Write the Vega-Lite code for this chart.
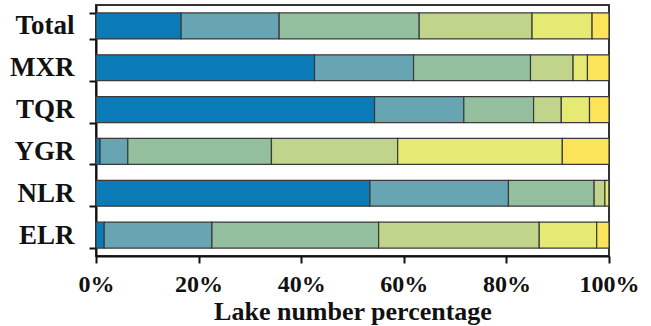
{
  "$schema": "https://vega.github.io/schema/vega-lite/v6.json",
  "width": 513,
  "height": 251,
  "autosize": "none",
  "padding": {"left": 96, "top": 5, "right": 42, "bottom": 70},
  "background": "white",
  "config": {
    "view": {"stroke": "#333", "strokeWidth": 2},
    "font": "Liberation Serif",
    "axis": {
      "domainColor": "#111",
      "domainWidth": 2,
      "tickColor": "#111",
      "tickWidth": 2,
      "labelFont": "Liberation Serif",
      "labelFontWeight": "bold",
      "labelColor": "#111",
      "titleFont": "Liberation Serif",
      "titleFontWeight": "bold",
      "titleColor": "#111",
      "grid": false
    }
  },
  "data": {
    "values": [
      {"region": "Total", "cls": "C1", "k": 1, "pct": 16.6},
      {"region": "Total", "cls": "C2", "k": 2, "pct": 19.1},
      {"region": "Total", "cls": "C3", "k": 3, "pct": 27.3},
      {"region": "Total", "cls": "C4", "k": 4, "pct": 22.0},
      {"region": "Total", "cls": "C5", "k": 5, "pct": 11.7},
      {"region": "Total", "cls": "C6", "k": 6, "pct": 3.3},
      {"region": "MXR", "cls": "C1", "k": 1, "pct": 42.6},
      {"region": "MXR", "cls": "C2", "k": 2, "pct": 19.3},
      {"region": "MXR", "cls": "C3", "k": 3, "pct": 22.8},
      {"region": "MXR", "cls": "C4", "k": 4, "pct": 8.3},
      {"region": "MXR", "cls": "C5", "k": 5, "pct": 2.8},
      {"region": "MXR", "cls": "C6", "k": 6, "pct": 4.2},
      {"region": "TQR", "cls": "C1", "k": 1, "pct": 54.3},
      {"region": "TQR", "cls": "C2", "k": 2, "pct": 17.4},
      {"region": "TQR", "cls": "C3", "k": 3, "pct": 13.6},
      {"region": "TQR", "cls": "C4", "k": 4, "pct": 5.4},
      {"region": "TQR", "cls": "C5", "k": 5, "pct": 5.5},
      {"region": "TQR", "cls": "C6", "k": 6, "pct": 3.8},
      {"region": "YGR", "cls": "C1", "k": 1, "pct": 0.8},
      {"region": "YGR", "cls": "C2", "k": 2, "pct": 5.4},
      {"region": "YGR", "cls": "C3", "k": 3, "pct": 28.0},
      {"region": "YGR", "cls": "C4", "k": 4, "pct": 24.6},
      {"region": "YGR", "cls": "C5", "k": 5, "pct": 32.1},
      {"region": "YGR", "cls": "C6", "k": 6, "pct": 9.1},
      {"region": "NLR", "cls": "C1", "k": 1, "pct": 53.4},
      {"region": "NLR", "cls": "C2", "k": 2, "pct": 27.0},
      {"region": "NLR", "cls": "C3", "k": 3, "pct": 16.7},
      {"region": "NLR", "cls": "C4", "k": 4, "pct": 2.1},
      {"region": "NLR", "cls": "C5", "k": 5, "pct": 0.8},
      {"region": "NLR", "cls": "C6", "k": 6, "pct": 0.0},
      {"region": "ELR", "cls": "C1", "k": 1, "pct": 1.6},
      {"region": "ELR", "cls": "C2", "k": 2, "pct": 21.0},
      {"region": "ELR", "cls": "C3", "k": 3, "pct": 32.5},
      {"region": "ELR", "cls": "C4", "k": 4, "pct": 31.3},
      {"region": "ELR", "cls": "C5", "k": 5, "pct": 11.2},
      {"region": "ELR", "cls": "C6", "k": 6, "pct": 2.4}
    ]
  },
  "mark": {"type": "bar", "stroke": "#3a3a3a", "strokeWidth": 1.2},
  "encoding": {
    "y": {
      "field": "region",
      "type": "nominal",
      "sort": ["Total", "MXR", "TQR", "YGR", "NLR", "ELR"],
      "scale": {"paddingInner": 0.38, "paddingOuter": 0.19},
      "axis": {
        "title": null,
        "tickBand": "extent",
        "tickSize": 7,
        "labelPadding": 15,
        "labelFontSize": 27,
        "labelBaseline": "middle"
      }
    },
    "x": {
      "field": "pct",
      "type": "quantitative",
      "stack": "zero",
      "scale": {"domain": [0, 100], "nice": false},
      "axis": {
        "title": "Lake number percentage",
        "titleFontSize": 26,
        "titleBaseline": "alphabetic",
        "titleY": 63,
        "values": [0, 20, 40, 60, 80, 100],
        "labelExpr": "datum.value + '%'",
        "labelFontSize": 24,
        "tickSize": 7,
        "labelPadding": 9,
        "labelFlush": false
      }
    },
    "color": {
      "field": "cls",
      "type": "nominal",
      "scale": {
        "domain": ["C1", "C2", "C3", "C4", "C5", "C6"],
        "range": ["#0b7bb7", "#67a5b3", "#94bf9f", "#c0d48c", "#e5ea72", "#fbe35a"]
      },
      "legend": null
    },
    "order": {"field": "k", "type": "quantitative"}
  }
}
